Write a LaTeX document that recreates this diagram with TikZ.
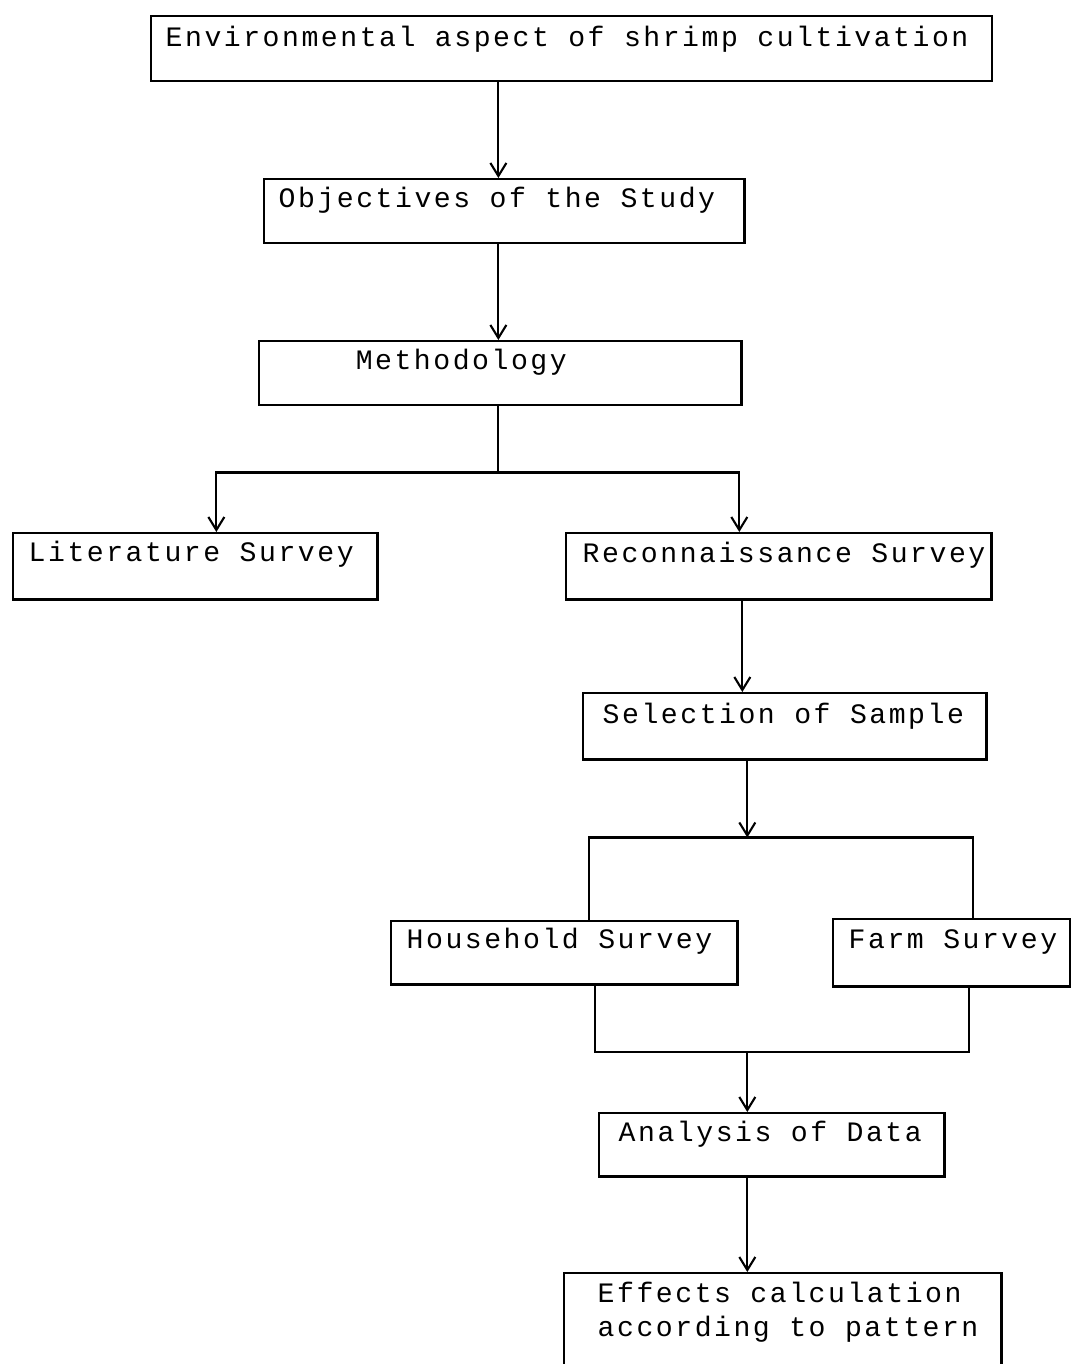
\documentclass[tikz,border=0pt]{standalone}
\usepackage{fontspec}
\newfontfamily\dotfont{Liberation Mono}[LetterSpace=9]
\usepackage{tikz}
\usetikzlibrary{arrows.meta}

\begin{document}
\begin{tikzpicture}[x=0.01cm,y=-0.01cm,
  box/.style={draw,rectangle,line width=0.7pt,anchor=north west,inner sep=0pt},
  txt/.style={anchor=base west,inner sep=0pt,align=left,font=\dotfont\fontsize{8}{9.6}\selectfont},
  conn/.style={line width=0.6pt},
  arr/.style={conn,-{Straight Barb[length=0.13cm,width=0.16cm]}}]
  %\draw[help lines] (0,0) grid[step=100] (1071,1364);
  \useasboundingbox (0,0) rectangle (1071,1364);
  \clip (0,0) rectangle (1071,1364);

  \draw (150,15)   node[box,minimum width=8.40cm,minimum height=.65cm](env)   {};
  \draw (263,178)  node[box,minimum width=4.80cm,minimum height=.64cm](obj)   {};
  \draw (258,340)  node[box,minimum width=4.82cm,minimum height=.64cm](meth)  {};
  \draw (12,532)   node[box,minimum width=3.64cm,minimum height=.66cm](lit)   {};
  \draw (565,532)  node[box,minimum width=4.25cm,minimum height=.66cm](rec)   {};
  \draw (582,692)  node[box,minimum width=4.03cm,minimum height=.66cm](sel)   {};
  \draw (390,920)  node[box,minimum width=3.46cm,minimum height=.63cm](house) {};
  \draw (832,918)  node[box,minimum width=2.37cm,minimum height=.67cm](farm)  {};
  \draw (598,1112) node[box,minimum width=3.45cm,minimum height=.63cm](ana)   {};
  \draw (563,1272) node[box,minimum width=4.37cm,minimum height=1.10cm](eff)  {};

  \draw ([xshift=.15cm,yshift=-.31cm]env.north west)   node[txt](envtxt)   {Environmental aspect of shrimp cultivation};
  \draw ([xshift=.15cm,yshift=-.29cm]obj.north west)   node[txt](objtxt)   {Objectives of the Study};
  \draw ([xshift=.97cm,yshift=-.29cm]meth.north west)  node[txt](methtxt)  {Methodology};
  \draw ([xshift=.16cm,yshift=-.29cm]lit.north west)   node[txt](littxt)   {Literature Survey};
  \draw ([xshift=.17cm,yshift=-.30cm]rec.north west)   node[txt](rectxt)   {Reconnaissance Survey};
  \draw ([xshift=.20cm,yshift=-.31cm]sel.north west)   node[txt](seltxt)   {Selection of Sample};
  \draw ([xshift=.16cm,yshift=-.28cm]house.north west) node[txt](housetxt) {Household Survey};
  \draw ([xshift=.16cm,yshift=-.30cm]farm.north west)  node[txt](farmtxt)  {Farm Survey};
  \draw ([xshift=.20cm,yshift=-.29cm]ana.north west)   node[txt](anatxt)   {Analysis of Data};
  \draw ([xshift=.34cm,yshift=-.64cm]eff.north west)   node[txt](efftxt)   {Effects calculation\\according to pattern};

  \draw[arr] ([xshift=-.06cm]obj.north |- env.south) -- ([xshift=-.06cm]obj.north);
  \draw[arr] ([xshift=-.06cm]obj.south) -- ([xshift=-.06cm]obj.south |- meth.north);

  \draw[conn] ([xshift=-.02cm]meth.south) -- ++(0,66) coordinate (split);
  \draw[arr] (split) -| ([xshift=.21cm]lit.north);
  \draw[arr] (split) -| ([xshift=-.395cm]rec.north);

  \draw[arr] ([xshift=-.365cm]rec.south) -- ([xshift=-.365cm]rec.south |- sel.north);
  \draw[arr] ([xshift=-.375cm]sel.south) -- ++(0,77) coordinate (fork);
  \draw[conn] ([xshift=.25cm]house.north) |- (fork) -| ([xshift=.215cm]farm.north);

  \coordinate (merge) at ([xshift=-.245cm,yshift=.60cm]ana.north);
  \draw[conn] ([xshift=.31cm]house.south) |- (merge) -| ([xshift=.175cm]farm.south);
  \draw[arr] (merge) -- ([xshift=-.245cm]ana.north);
  \draw[arr] ([xshift=-.245cm]ana.south) -- ([xshift=-.245cm]ana.south |- eff.north);

\end{tikzpicture}
\end{document}
